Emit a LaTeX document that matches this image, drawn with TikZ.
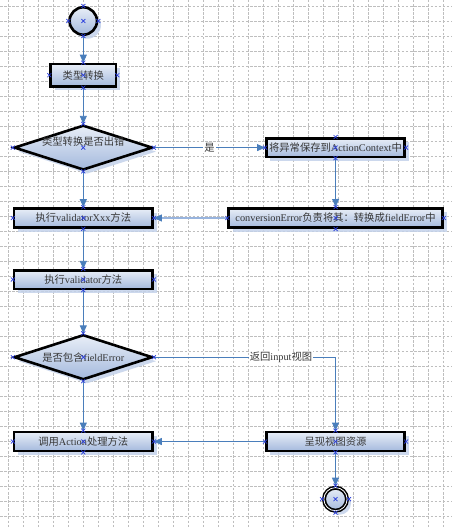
\documentclass[tikz,border=0pt]{standalone}
\usepackage{fontspec}
\setmainfont{Liberation Serif}
\newfontfamily\cjk{Noto Sans CJK SC}
\usetikzlibrary{shapes.geometric,shadows,arrows.meta}
\definecolor{lineblue}{RGB}{74,126,187}
\definecolor{lightline}{RGB}{152,180,222}
\definecolor{topc}{RGB}{232,238,247}
\definecolor{botc}{RGB}{164,185,221}
\definecolor{shad}{RGB}{196,210,234}
\definecolor{txt}{RGB}{55,55,55}
\definecolor{gridc}{RGB}{190,190,190}
\definecolor{mkc}{RGB}{40,60,220}
\newcommand{\zh}[1]{{\cjk #1}}
\begin{document}
\begin{tikzpicture}[x=1pt,y=-1pt,
  every node/.style={font=\fontsize{10.3}{12}\selectfont, text=txt},
  gridline/.style={draw=gridc, line width=0.6pt, dash pattern=on 2.5pt off 1.6pt},
  sh/.style={drop shadow={shadow xshift=4pt, shadow yshift=-4pt, fill=shad, opacity=0.85}},
  box/.style={rectangle, draw=black, line width=2.6pt, top color=topc, bottom color=botc, inner sep=0pt, sh},
  dia/.style={diamond, aspect=4, draw=black, line width=2.6pt, top color=topc, bottom color=botc, inner sep=0pt, sh},
  startc/.style={circle, draw=black, line width=2.6pt, top color=topc, bottom color=botc, inner sep=0pt, minimum size=27.4pt, sh},
  endc/.style={circle, draw=black, line width=4pt, top color=topc, bottom color=botc, inner sep=0pt, minimum size=23pt, sh},
  conn/.style={draw=lineblue, line width=0.8pt, -{Triangle[length=8pt,width=7pt]}},
  lconn/.style={draw=lightline, line width=2.2pt, -{Triangle[length=8pt,width=7pt,line width=0.8pt,color=lineblue,fill=lineblue]}},
  lbl/.style={fill=white, inner sep=1pt},
  mk/.style={draw=mkc, line width=0.7pt}
]
\useasboundingbox (0,0) rectangle (452,527);
\fill[white] (0,0) rectangle (452,527);
% grid
\foreach \i in {0,...,29} \draw[gridline] (8.3+15*\i,0) -- (8.3+15*\i,527);
\foreach \j in {0,...,34} \draw[gridline] (0,6+15*\j) -- (452,6+15*\j);

% nodes
\node[startc] (st) at (83.3,21) {};
\node[box, minimum width=65.4pt, minimum height=22.4pt] (b1) at (83.3,75.2) {\zh{类型转换}};
\node[dia, minimum width=138.4pt, minimum height=44.9pt,
      label={[yshift=6.5pt]center:\zh{类型转换是否出错}}] (d1) at (83.3,147.6) {};
\node[box, minimum width=138.4pt, minimum height=18.6pt] (ac) at (335.5,147.6) {\zh{将异常保存到}ActionContext\zh{中}};
\node[box, minimum width=214.1pt, minimum height=19.4pt] (ce) at (335.6,218) {conversionError\zh{负责将其：转换成}fieldError\zh{中}};
\node[box, minimum width=138.4pt, minimum height=19pt] (vx) at (83.3,218) {\zh{执行}validatorXxx\zh{方法}};
\node[box, minimum width=138.4pt, minimum height=18.6pt] (va) at (83.3,279.5) {\zh{执行}validator\zh{方法}};
\node[dia, minimum width=138.4pt, minimum height=45.1pt] (d2) at (83.3,357.2) {\zh{是否包含}fieldError};
\node[box, minimum width=138.4pt, minimum height=19.2pt] (ca) at (83.3,441.5) {\zh{调用}Action\zh{处理方法}};
\node[box, minimum width=138.4pt, minimum height=19.2pt] (rv) at (335.5,441.5) {\zh{呈现视图资源}};
\node[endc] (en) at (335.5,499.2) {};
\draw[white, line width=0.8pt] (en.center) circle[radius=11.6pt];

% connectors
\draw[conn] (st) -- (b1);
\draw[conn] (b1) -- (d1);
\draw[conn] (d1.east) -- node[lbl, pos=0.5] {\zh{是}} (ac.west);
\draw[conn] (d1.south) -- (vx.north);
\draw[conn] (ac.south) -- (ce.north);
\draw[lconn] (ce.west) -- (vx.east);
\draw[conn] (vx.south) -- (va.north);
\draw[conn] (va.south) -- (d2.north);
\coordinate (k) at (rv.north |- d2.east);
\draw[conn] (d2.east) -- node[lbl, pos=0.7] {\zh{返回}input\zh{视图}} (k) -- (rv.north);
\draw[conn] (d2.south) -- (ca.north);
\draw[conn] (rv.west) -- (ca.east);
\draw[conn] (rv.south) -- (en.north);

% connection point markers
\foreach \n in {st,b1,d1,ac,ce,vx,va,d2,ca,rv,en}
  \foreach \a in {north,south,east,west,center}
    \draw[mk] (\n.\a) +(-2,-2) -- +(2,2) +(-2,2) -- +(2,-2);
\end{tikzpicture}
\end{document}
